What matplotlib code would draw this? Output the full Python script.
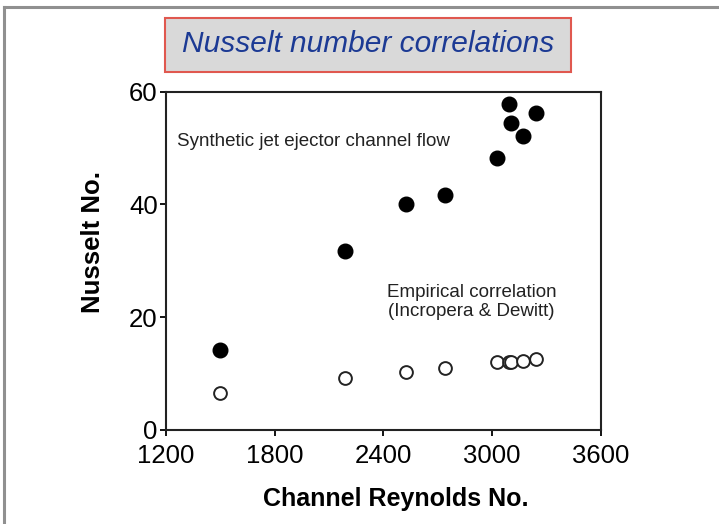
import matplotlib
matplotlib.use("Agg")
import matplotlib.pyplot as plt
from matplotlib.patches import Rectangle
from matplotlib.lines import Line2D

# Channel Reynolds number for each test point
reynolds = [1496, 2186, 2527, 2741, 3031, 3092, 3106, 3173, 3241]
# Measured Nusselt number (synthetic jet ejector channel flow)
nu_jet = [14.1, 31.8, 40.0, 41.7, 48.2, 57.8, 54.5, 52.1, 56.3]
# Empirical correlation (Incropera & Dewitt)
nu_empirical = [6.6, 9.2, 10.3, 11.0, 12.0, 12.0, 12.1, 12.3, 12.6]

x_ticks = [1200, 1800, 2400, 3000, 3600]
y_ticks = [0, 20, 40, 60]

plt.rcParams["font.family"] = ["Liberation Sans", "DejaVu Sans"]

fig = plt.figure(figsize=(7.19, 5.24), dpi=100)
ax = fig.add_axes([0.2309, 0.1794, 0.6043, 0.6456])

ax.plot(reynolds, nu_jet, "o", color="black", markersize=10.5, zorder=3)
ax.plot(reynolds, nu_empirical, "o", markerfacecolor="white",
        markeredgecolor="#222222", markeredgewidth=1.4, markersize=9.2, zorder=3)

ax.set_xlim(1200, 3600)
ax.set_ylim(0, 60)
ax.set_xticks(x_ticks)
ax.set_yticks(y_ticks)
ax.tick_params(axis="x", labelsize=18.5, length=4.5, width=1.3, pad=5.5)
ax.tick_params(axis="y", labelsize=18.5, length=4, width=1.3, pad=2)
for spine in ax.spines.values():
    spine.set_linewidth(1.5)
    spine.set_color("#222222")

ax.set_xlabel("Channel Reynolds No.", fontsize=18, fontweight="bold")
ax.set_ylabel("Nusselt No.", fontsize=18.5, fontweight="bold")
ax.yaxis.set_label_coords(-0.14, 0.557)
ax.xaxis.set_label_coords(0.528, -0.168)

ax.text(1261, 51.2, "Synthetic jet ejector channel flow", fontsize=13.5,
        color="#222222", va="center", ha="left")
ax.text(2887, 22.7, "Empirical correlation\n(Incropera & Dewitt)",
        fontsize=13.5, color="#222222", va="center", ha="center",
        linespacing=1.15)

# title box
fig.add_artist(Rectangle((0.2295, 0.8626), 0.5647, 0.103,
                         transform=fig.transFigure, facecolor="#d9d9d9",
                         edgecolor="#e0584f", linewidth=1.5))
fig.text(0.5118, 0.916, "Nusselt number correlations", fontsize=21.5,
         style="italic", color="#1c3a94", ha="center", va="center")

# outer frame (top and left edges)
fig.add_artist(Line2D([0.006, 1.0], [0.986, 0.986], transform=fig.transFigure,
                      color="#909090", linewidth=2.2))
fig.add_artist(Line2D([0.006, 0.006], [0.0, 0.986], transform=fig.transFigure,
                      color="#909090", linewidth=2.2))

fig.savefig("out.png", dpi=100)
